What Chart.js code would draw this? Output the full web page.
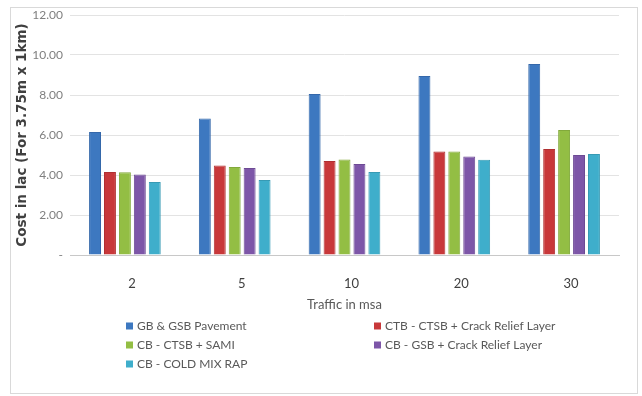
<!DOCTYPE html>
<html>
<head>
<meta charset="utf-8">
<script src="https://cdn.jsdelivr.net/npm/chart.js@4.4.1/dist/chart.umd.min.js"></script>
<style>
  html, body { margin: 0; padding: 0; background: #fff; }
  #wrap { position: relative; width: 642px; height: 396px; }
  #frame { position: absolute; left: 10px; top: 7px; width: 628px; height: 387px; border: 1px solid #d9d9d9; box-sizing: border-box; pointer-events: none; }
</style>
</head>
<body>
<div id="wrap">
  <canvas id="c" width="642" height="396"></canvas>
  <div id="frame"></div>
</div>
<script>
// Traffic categories (msa) and construction cost per series (lac, 3.75m x 1km)
const categories = ['2', '5', '10', '20', '30'];
const seriesNames = [
  'GB & GSB Pavement',
  'CTB - CTSB + Crack Relief Layer',
  'CB - CTSB + SAMI',
  'CB - GSB + Crack Relief Layer',
  'CB - COLD MIX RAP'
];
const gbGsbPavement    = [6.15, 6.82, 8.05, 8.95, 9.55];
const ctbCrackRelief   = [4.15, 4.48, 4.70, 5.18, 5.30];
const cbCtsbSami       = [4.14, 4.40, 4.77, 5.18, 6.25];
const cbGsbCrackRelief = [4.02, 4.35, 4.55, 4.92, 5.00];
const cbColdMixRap     = [3.65, 3.75, 4.15, 4.76, 5.05];
const yTickLabels = ['-', '2.00', '4.00', '6.00', '8.00', '10.00', '12.00'];

const seriesValues = [gbGsbPavement, ctbCrackRelief, cbCtsbSami, cbGsbCrackRelief, cbColdMixRap];
const fills   = ['#3d78c0', '#c8383a', '#93be44', '#7d56a8', '#3faecb'];
const strokes = ['#3568aa', '#b03032', '#82a93b', '#6d4a94', '#379ab4'];

const uiFont = 'Lato, "Liberation Sans", sans-serif';

const datasets = seriesValues.map((vals, i) => ({
  label: seriesNames[i],
  data: vals,
  backgroundColor: fills[i],
  borderColor: strokes[i],
  borderWidth: 1,
  categoryPercentage: 0.68,
  barPercentage: 0.8
}));

// Two-column legend below the plot
const legendPlugin = {
  id: 'twoColLegend',
  afterDraw(chart) {
    const ctx = chart.ctx;
    const cols = [126, 374];
    const rows = [326, 345, 364];
    ctx.save();
    ctx.font = '12px ' + uiFont;
    ctx.textBaseline = 'middle';
    chart.data.datasets.forEach((ds, i) => {
      const x = cols[i % 2];
      const y = rows[Math.floor(i / 2)];
      ctx.fillStyle = ds.backgroundColor;
      ctx.fillRect(x, y - 3.5, 7, 7);
      ctx.fillStyle = '#595959';
      ctx.fillText(ds.label, x + 11, y + 0.5);
    });
    ctx.restore();
  }
};

new Chart(document.getElementById('c'), {
  type: 'bar',
  data: { labels: categories, datasets },
  plugins: [legendPlugin],
  options: {
    responsive: false,
    animation: false,
    layout: { padding: { left: 0, right: 23, top: 15, bottom: 80 } },
    plugins: { legend: { display: false }, tooltip: { enabled: false } },
    scales: {
      x: {
        grid: { display: false, drawTicks: false },
        border: { display: true, color: '#c8c8c8', width: 1 },
        ticks: { color: '#404040', padding: 21, labelOffset: 7, font: { size: 13, family: uiFont } },
        title: { display: true, text: 'Traffic in msa', color: '#595959', padding: { top: 0, bottom: 3 },
                 font: { size: 13, family: uiFont } },
        afterFit(scale) { scale.height = 61; }
      },
      y: {
        min: 0, max: 12,
        ticks: {
          stepSize: 2,
          color: '#7f7f7f',
          padding: 7,
          font: { size: 12, family: uiFont },
          callback: (v) => yTickLabels[Math.round(v / 2)]
        },
        grid: { color: '#e3e3e3', drawTicks: false },
        border: { display: false },
        title: { display: true, text: 'Cost in lac (For 3.75m x 1km)', color: '#404040', padding: { top: 14, bottom: 0 },
                 font: { size: 13.5, weight: 'bold', family: '"DejaVu Sans", sans-serif' } },
        afterFit(scale) { scale.width = 70; }
      }
    }
  }
});
</script>
</body>
</html>
